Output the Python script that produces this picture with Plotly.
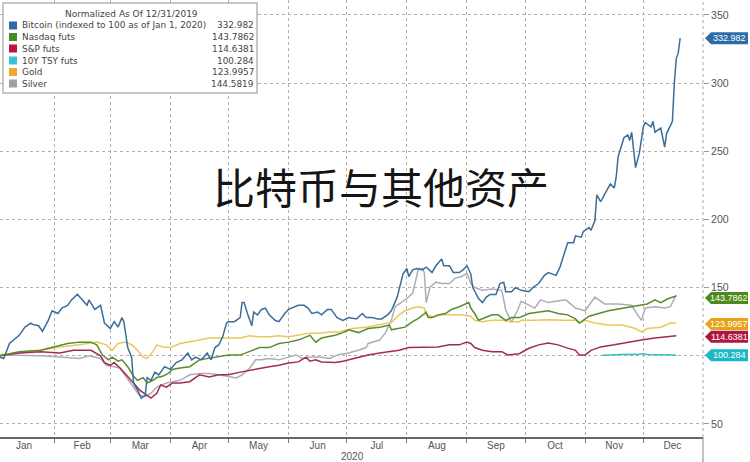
import pandas as pd
import plotly.graph_objects as go

# ---------------- data (day-of-year offsets from 2020-01-01, index values) ----------------
btc_day = [3,5,8,11,13,16,19,20,23,25,28,30,33,35,38,40,43,45,48,49,52,55,57,60,62,64,66,67,69,71,72,74,76,78,79,81,83,85,88,91,94,97,100,102,104,107,110,112,114,116,118,120,121,124,127,128,129,131,133,134,136,138,140,142,145,147,150,152,155,157,160,162,164,167,169,172,174,177,180,183,187,190,192,195,198,200,203,205,208,210,211,213,214,216,218,221,223,226,228,231,232,235,237,240,242,244,246,247,250,252,254,256,259,261,263,264,267,269,272,276,278,281,284,286,290,292,295,296,299,300,303,304,307,308,310,311,313,314,316,318,320,321,322,325,327,328,329,330,331,333,335,336,339,340,341,344,346,347,349,350,351,352,353,354]
btc_val = [99,98,109,113,115,121,124,123,122,118,126,133,131,135,137,141,145,142,137,141,134,137,124,120,125,121,128,125,106,99,80,75,69,71,84,82,88,86,92,90,95,97,102,97,99,97,102,97,106,108,114,124,125,125,128,139,139,130,122,132,130,134,135,130,126,125,131,134,136,137,137,135,131,132,130,134,134,128,126,128,127,131,128,128,127,127,130,133,143,155,160,164,158,163,164,163,165,161,166,171,166,166,161,161,163,166,160,150,142,139,143,145,145,153,154,147,147,150,148,147,150,153,159,161,159,165,178,183,183,188,187,191,194,192,199,218,213,216,221,226,223,231,246,260,262,258,264,251,238,249,268,271,268,272,264,267,253,263,269,272,300,318,322,332.982]

ndx_day = [3,13,24,30,38,44,50,53,56,59,61,64,66,69,72,74,77,79,82,84,87,90,92,96,101,106,111,116,121,127,132,137,142,147,152,157,163,166,169,173,176,180,183,188,193,199,204,205,209,212,216,219,223,224,226,229,233,236,240,243,245,246,248,250,254,257,260,264,267,271,276,281,286,291,296,300,302,307,312,317,325,332,337,341,344,348,352]
ndx_val = [100,103,104,106,109,110,110,108,100.5,97,99,96,97,92,85,82,84,80,82,84,85,87,90,91,92,97,98,99,100.5,100.5,103,106,106,109,110,111.5,115,110,113,114,115,117,119,117,120,121,122.5,119,120,121,125,127.5,132,128,128,130,131,134,136,138,139,135,131,126,128,130,130,126,128,128,131,132,133,131,130,127,124,129,131,133,135,137,138,141,139,142,143.7862]

spx_day = [3,13,24,34,41,50,55,57,60,62,65,69,72,75,79,81,84,86,89,92,96,101,106,111,116,121,127,132,137,142,147,152,157,161,163,166,169,173,176,180,183,188,193,199,204,209,214,219,224,229,235,240,244,246,248,252,257,262,265,271,276,281,286,291,296,300,302,305,308,313,320,327,334,341,348,352]
spx_val = [100,102,103,102,104,104,100,95,93,95,91,85,80,75,71,69,72.5,78.6,77,80,80,81,86,84.5,86,86,88,89.5,91,92,93,94.7,95.5,99,96,97,95.5,95.5,95,96,97,99,100.5,102,103,104,106,106,106.5,106.5,108,108,110,109,106,104,103,103,100.6,101.5,105.5,108,109.4,108,105.6,104,100.6,100.6,104,106.5,108,110,111.5,113,114,114.6381]

tsy_day = [314,319,324,330,332,335,337,343,348,352]
tsy_val = [100.3,100.8,100.9,101.2,100.9,101.5,101,100.7,100.8,100.284]

gold_day = [3,13,24,34,44,53,58,61,64,68,71,74,77,79,82,84,87,91,96,101,106,111,116,121,127,132,137,142,147,152,157,163,168,173,178,183,185,192,197,202,205,209,212,216,219,222,223,227,231,236,241,246,248,252,257,262,267,271,272,279,286,293,300,302,305,310,317,324,331,334,337,344,349,352]
gold_val = [101,102,104,106.5,108,110,108,104,109,110,108,104,99,98,103,108,106.5,106,109,110,111.5,113,113,112.5,113,114.6,114,114,114.6,114,115,116.6,116.6,117.5,117.5,119,120,121,122.5,124,124.5,130,133,135,136,135,130,128.5,130,130,130,129,126,125,126,126,125,125,126,126,126.5,126,126,124,126,124,122.5,122.5,120,117.5,120,121,124,123.9957]

silver_day = [3,13,24,34,44,49,55,58,61,65,68,72,75,78,81,84,89,96,101,106,111,116,121,125,128,132,135,138,142,147,152,156,159,163,168,173,178,183,185,188,192,193,199,202,205,207,210,213,216,218,219,221,222,223,225,228,231,235,238,241,244,246,248,252,257,262,264,267,270,272,276,279,282,286,290,295,300,305,310,315,322,329,332,334,336,341,346,349,352]
silver_val = [100.5,100.5,100,99,98,100,98,93,92,91,85,77,71,70,72.5,77,80,82,86,87,87,86,84.5,83.7,86,91,97,97,98,97,99,100.6,98,99,99,98,101,102,103,104,106,109,111.5,117,126,136,139,142,146,158,164,164,161,139,150.5,154,153,153,157,158,160.5,153,150,148,149,148,133.6,124.6,133,140,137,135,141,139,140,141,135,133,143,138,138,137,130,126,135,136,135,136,144.5819]

series_names = ["Bitcoin (indexed to 100 as of Jan 1, 2020)", "Nasdaq futs", "S&P futs", "10Y TSY futs", "Gold", "Silver"]
last_values = ["332.982", "143.7862", "114.6381", "100.284", "123.9957", "144.5819"]
y_ticks = [50, 100, 150, 200, 250, 300, 350]
y_ticktext = ["50", "", "150", "200", "250", "300", "350"]
legend_title = "Normalized As Of 12/31/2019"
chart_title = "比特币与其他资产"
year_label = "2020"

# ---------------- styling ----------------
W, H = 750, 462
ML, MR, MT, MB = 0, 47, 0, 25
PW, PH = W - ML - MR, H - MT - MB
FONT = "Liberation Sans"
LFONT = "DejaVu Sans"

line_colors = {"btc": "#3b6d99", "ndx": "#5a8b2f", "spx": "#a52a52", "tsy": "#2fc2c6",
               "gold": "#e9c75a", "silver": "#adadb5"}
swatch_colors = ["#2f6aa8", "#4b8a22", "#b8163e", "#35c3d8", "#f0a830", "#a0a0a8"]
tag_colors = ["#2d6ca8", "#4c8a1c", "#b0153d", "#1cb8c5", "#e8a21a", None]
tag_yshift = [0, -2, -1, 0, -1, 0]

base = pd.Timestamp("2020-01-01")
def to_dates(days):
    return base + pd.to_timedelta(days, unit="D")

def px(x):
    return (x - ML) / PW

def py(y):
    return 1 - (y - MT) / PH

fig = go.Figure()
order = [("silver", silver_day, silver_val), ("gold", gold_day, gold_val), ("spx", spx_day, spx_val),
         ("ndx", ndx_day, ndx_val), ("tsy", tsy_day, tsy_val), ("btc", btc_day, btc_val)]
for key, d, v in order:
    fig.add_trace(go.Scatter(x=to_dates(d), y=v, mode="lines",
                             line=dict(color=line_colors[key], width=1.5),
                             hoverinfo="skip", showlegend=False))

shapes = []
annotations = []

# legend box
shapes.append(dict(type="rect", xref="paper", yref="paper", x0=px(3), x1=px(257), y0=py(93), y1=py(3),
                   fillcolor="white", line=dict(color="#b5b5b5", width=1.5), layer="above"))
annotations.append(dict(xref="paper", yref="paper", x=px(131), y=py(14), text=legend_title,
                        showarrow=False, xanchor="center", yanchor="middle",
                        font=dict(family=LFONT, size=9, color="#444")))
row_y = [25.5, 37, 48.5, 60.5, 72, 83.5]
for i, name in enumerate(series_names):
    shapes.append(dict(type="rect", xref="paper", yref="paper", x0=px(9), x1=px(17),
                       y0=py(row_y[i] + 4), y1=py(row_y[i] - 4),
                       fillcolor=swatch_colors[i], line=dict(width=0), layer="above"))
    annotations.append(dict(xref="paper", yref="paper", x=px(20), y=py(row_y[i]), text=name,
                            showarrow=False, xanchor="left", yanchor="middle",
                            font=dict(family=LFONT, size=8.9, color="#444")))
    annotations.append(dict(xref="paper", yref="paper", x=px(256), y=py(row_y[i]), text=last_values[i],
                            showarrow=False, xanchor="right", yanchor="middle",
                            font=dict(family=LFONT, size=8.9, color="#444")))

# value tags on the right
for i, val in enumerate(last_values):
    if tag_colors[i] is None:
        continue
    v = float(val)
    s = tag_yshift[i]
    shapes.append(dict(type="path", xref="paper", yref="y", xsizemode="pixel", ysizemode="pixel",
                       xanchor=1, yanchor=v,
                       path=f"M2,{s} L8,{s+6} L45,{s+6} L45,{s-6} L8,{s-6} Z",
                       fillcolor=tag_colors[i], line=dict(width=0), layer="above"))
    annotations.append(dict(xref="paper", yref="y", x=1, y=v, xshift=26, yshift=s, text=val,
                            showarrow=False, xanchor="center", yanchor="middle",
                            font=dict(family=FONT, size=9, color="white")))

# right dotted border and small separator below axis
shapes.append(dict(type="line", xref="paper", yref="paper", x0=1, x1=1, y0=0, y1=1,
                   line=dict(color="#aaaaaa", width=1, dash="dot")))
shapes.append(dict(type="line", xref="paper", yref="paper", x0=1, x1=1, y0=0, y1=-0.06,
                   line=dict(color="#888", width=1)))

annotations.append(dict(xref="paper", yref="paper", x=px(352), y=py(456), text=year_label,
                        showarrow=False, xanchor="center", yanchor="middle",
                        font=dict(family=FONT, size=10, color="#555")))
annotations.append(dict(xref="paper", yref="paper", x=px(381), y=py(185), text=chart_title,
                        showarrow=False, xanchor="center", yanchor="middle",
                        font=dict(family="Noto Sans CJK SC", size=42, color="#151515")))

fig.update_layout(
    width=W, height=H,
    margin=dict(l=ML, r=MR, t=MT, b=MB, pad=0),
    paper_bgcolor="white", plot_bgcolor="white",
    showlegend=False,
    shapes=shapes, annotations=annotations,
    xaxis=dict(type="date", range=["2020-01-04 02:24", "2020-12-31 19:00"],
               dtick="M1", tick0="2020-01-01", ticklabelmode="period", tickformat="%b",
               ticks="outside", ticklen=4, tickcolor="#777", ticklabelstandoff=-6,
               showgrid=True, gridcolor="#b0b0b0", griddash="dot", gridwidth=1,
               showline=True, linecolor="#666", linewidth=1.5, zeroline=False,
               tickfont=dict(family=FONT, size=10, color="#555")),
    yaxis=dict(side="right", range=[40.4, 361], tickvals=y_ticks, ticktext=y_ticktext,
               ticks="outside", ticklen=5, tickcolor="#999",
               showgrid=True, gridcolor="#b0b0b0", griddash="dot", gridwidth=1,
               showline=False, zeroline=False,
               tickfont=dict(family=FONT, size=10.5, color="#555")),
)

fig.write_html("out.html", config={"displayModeBar": False},
               post_script="document.body.style.margin='0';document.body.style.overflow='hidden';")
